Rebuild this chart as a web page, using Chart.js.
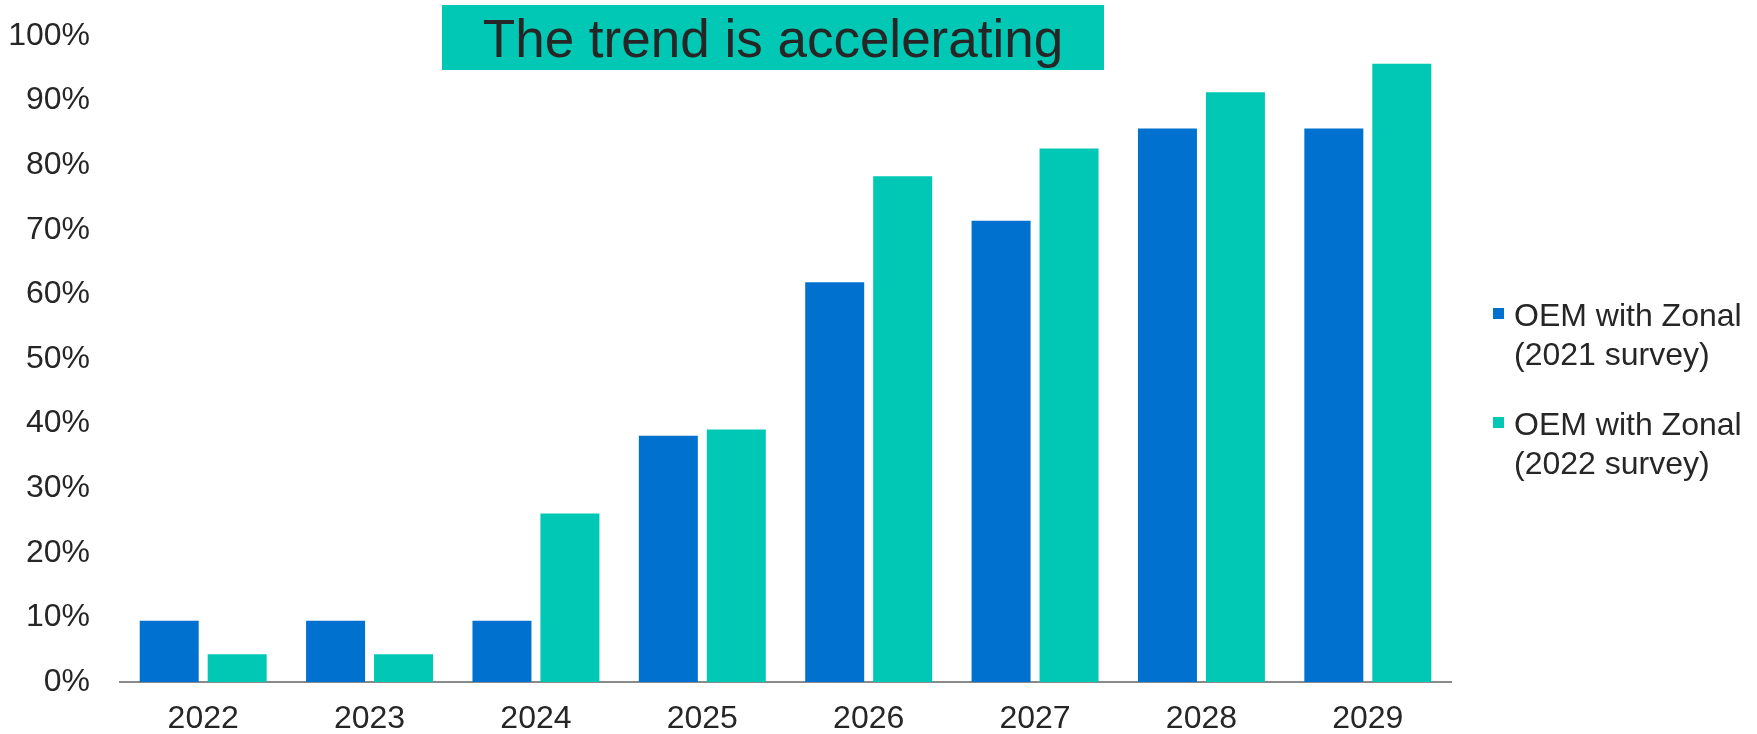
<!DOCTYPE html>
<html>
<head>
<meta charset="utf-8">
<title>The trend is accelerating</title>
<script src="https://cdn.jsdelivr.net/npm/chart.js@4/dist/chart.umd.min.js"></script>
<style>
  html, body { margin: 0; padding: 0; background: #ffffff; }
  #box { position: relative; width: 1757px; height: 734px; }
</style>
</head>
<body>
<div id="box"><canvas id="graficoZonal"></canvas></div>
<script>
// dados do grafico
const anos = ['2022', '2023', '2024', '2025', '2026', '2027', '2028', '2029'];
const pesquisa2021 = [9.5, 9.5, 9.5, 38.1, 61.9, 71.4, 85.7, 85.7];
const pesquisa2022 = [4.3, 4.3, 26.1, 39.1, 78.3, 82.6, 91.3, 95.7];
const legenda2021 = ['OEM with Zonal', '(2021 survey)'];
const legenda2022 = ['OEM with Zonal', '(2022 survey)'];
const titulo = 'The trend is accelerating';

const AZUL = '#0071ce';
const VERDE = '#00c8b4';
const TEXTO = '#262626';
const FONTE = '"Liberation Sans", Arial, sans-serif';

Chart.defaults.font.family = FONTE;
Chart.defaults.color = TEXTO;

// caixa do titulo + legenda desenhadas a mao
const extras = {
    id: 'extras',
    afterDraw(chart) {
        const ctx = chart.ctx;
        ctx.save();

        // titulo
        ctx.fillStyle = VERDE;
        ctx.fillRect(442, 5, 662, 65);
        ctx.fillStyle = TEXTO;
        ctx.font = '53px ' + FONTE;
        ctx.textAlign = 'center';
        ctx.textBaseline = 'alphabetic';
        ctx.fillText(titulo, 773, 56.5);

        // legenda
        ctx.font = '32px ' + FONTE;
        ctx.textAlign = 'left';
        ctx.textBaseline = 'middle';
        const topos = [317, 426];
        chart.data.datasets.forEach(function (ds, i) {
            const y = topos[i];
            ctx.fillStyle = ds.backgroundColor;
            ctx.fillRect(1493, y - 9, 11, 11);
            ctx.fillStyle = TEXTO;
            ds.label.forEach(function (linha, j) {
                ctx.fillText(linha, 1514, y + j * 39);
            });
        });

        ctx.restore();
    }
};

const dados = {
    labels: anos,
    datasets: [
        {
            label: legenda2021,
            data: pesquisa2021,
            backgroundColor: AZUL,
            categoryPercentage: 0.817,
            barPercentage: 0.868
        },
        {
            label: legenda2022,
            data: pesquisa2022,
            backgroundColor: VERDE,
            categoryPercentage: 0.817,
            barPercentage: 0.868
        }
    ]
};

const config = {
    type: 'bar',
    data: dados,
    options: {
        responsive: true,
        maintainAspectRatio: false,
        animation: false,
        layout: { padding: { top: 36, right: 306, bottom: 0, left: 0 } },
        plugins: {
            legend: { display: false },
            tooltip: { enabled: false }
        },
        scales: {
            x: {
                grid: { display: false, drawTicks: false },
                border: { display: true, color: '#8a8a8a', width: 2 },
                ticks: { padding: 18, font: { size: 32 }, color: TEXTO, maxRotation: 0 },
                afterFit(scale) { scale.height = 52; }
            },
            y: {
                min: 0,
                max: 100,
                grid: { display: false, drawTicks: false },
                border: { display: false },
                ticks: {
                    stepSize: 10,
                    padding: 30,
                    font: { size: 32 },
                    color: TEXTO,
                    callback: function (v) { return v + '%'; }
                },
                afterFit(scale) {
                    scale.width = 120;
                    // o padding dos ticks nao deve empurrar o topo
                    scale.paddingTop = 0;
                    scale.paddingBottom = 0;
                }
            }
        }
    },
    plugins: [extras]
};

let graficoZonal = new Chart(document.getElementById('graficoZonal'), config);
</script>
</body>
</html>
